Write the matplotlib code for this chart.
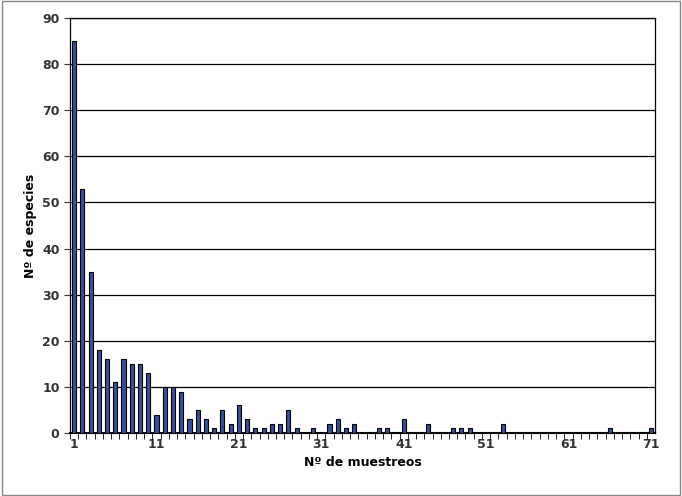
import matplotlib
matplotlib.use("Agg")
import matplotlib.pyplot as plt
from matplotlib.patches import Rectangle

muestreos = list(range(1, 72))
vals = {1:85,2:53,3:35,4:18,5:16,6:11,7:16,8:15,9:15,10:13,11:4,12:10,13:10,14:9,15:3,16:5,17:3,18:1,19:5,
        20:2,21:6,22:3,23:1,24:1,25:2,26:2,27:5,28:1,30:1,32:2,33:3,34:1,35:2,38:1,39:1,41:3,44:2,47:1,48:1,
        49:1,53:2,66:1,71:1}
especies = [vals.get(m, 0) for m in muestreos]
xticks = [1, 11, 21, 31, 41, 51, 61, 71]

fig = plt.figure(figsize=(6.82, 4.96), dpi=100)
fig.patches.append(Rectangle((0.003, 0.003), 0.994, 0.994, transform=fig.transFigure,
                             fill=False, edgecolor="#888888", lw=1))
ax = fig.add_axes([70/682, 63/496, 585/682, 415/496])
ax.bar(muestreos, especies, width=0.5, color="#3a4f9c", edgecolor="black", linewidth=0.8, zorder=3)
ax.set_xlim(0.5, 71.5)
ax.set_ylim(0, 90)
ax.set_yticks(range(0, 91, 10))
ax.yaxis.grid(True, color="black", lw=0.9, zorder=0)
ax.set_xticks(xticks)
ax.set_xticks([m + 0.5 for m in range(0, 71)], minor=True)
ax.tick_params(axis="x", which="major", length=0, labelsize=9, colors="#333333")
ax.tick_params(axis="x", which="minor", length=4, direction="out")
ax.tick_params(axis="y", labelsize=9, length=4, colors="#333333")
for lbl in ax.get_xticklabels() + ax.get_yticklabels():
    lbl.set_fontweight("bold")
for s in ax.spines.values():
    s.set_linewidth(0.9)
ax.spines["bottom"].set_linewidth(1.5)
ax.set_xlabel("Nº de muestreos", fontsize=9, fontweight="bold")
ax.set_ylabel("Nº de especies", fontsize=9, fontweight="bold")
fig.savefig("out.png", dpi=100)
